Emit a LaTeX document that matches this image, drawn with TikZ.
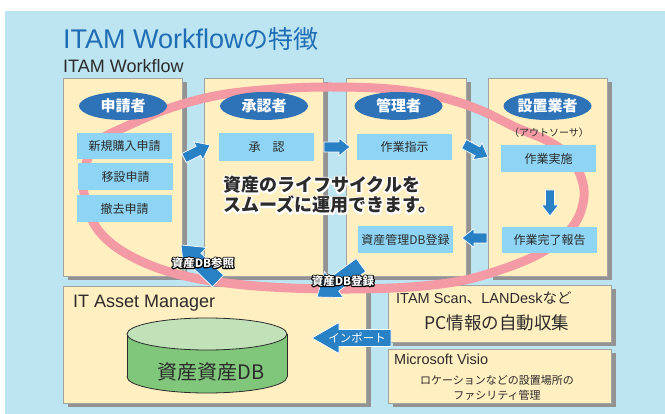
\documentclass[tikz,border=0pt]{standalone}
\usepackage{fontspec}
\setmainfont{Liberation Sans}
\newfontfamily\jp{Noto Sans CJK JP}
\usetikzlibrary{shapes.geometric,calc,shadows}
\definecolor{bgblue}{HTML}{BDE4F1}
\definecolor{panelyellow}{HTML}{FFEFC1}
\definecolor{panelgray}{HTML}{A3A3A3}
\definecolor{shadowgray}{HTML}{939393}
\definecolor{roleblue}{HTML}{2E73B8}
\definecolor{taskblue}{HTML}{8ED5F5}
\definecolor{arrowblue}{HTML}{2880C5}
\definecolor{ringpink}{HTML}{F49AA5}
\definecolor{titleblue}{HTML}{1F6DB4}
\definecolor{textdark}{HTML}{2B2B2B}
\definecolor{cylbody}{HTML}{80C77B}
\definecolor{cyltop}{HTML}{C1E2B9}
\tikzset{
  panel/.style={anchor=north west, fill=panelyellow, draw=panelgray, line width=1pt, inner sep=0pt,
    general shadow={fill=shadowgray, shadow xshift=4pt, shadow yshift=-4pt}},
  role/.style={ellipse, fill=roleblue, text=white, minimum width=88pt, minimum height=28pt, inner sep=0pt,
    font=\jp\bfseries\fontsize{15}{15}\selectfont},
  task/.style={rectangle, fill=taskblue, minimum width=95pt, minimum height=27pt, inner sep=0pt,
    text=textdark, font=\jp\fontsize{12}{12}\selectfont},
  blockarrow/.style={fill=arrowblue, draw=white, line width=0.7pt, line join=miter},
  ringline/.style={draw=ringpink, line width=9pt},
  bigmsg/.style={anchor=west, inner sep=0pt, text=textdark, font=\jp\bfseries\fontsize{18}{18}\selectfont},
  dblabel/.style={inner sep=0pt, text=white, font=\jp\bfseries\fontsize{11.5}{11.5}\selectfont},
  plain/.style={inner sep=0pt, text=textdark},
}
\newcommand{\barrow}[5]{%
  \coordinate (bh) at ($(#2)!#5!(#1)$);
  \filldraw[blockarrow] ($(#1)!#3/2!90:(#2)$) -- ($(bh)!#3/2!-90:(#1)$) -- ($(bh)!#4/2!-90:(#1)$) -- (#2)
    -- ($(bh)!#4/2!90:(#1)$) -- ($(bh)!#3/2!90:(#1)$) -- ($(#1)!#3/2!-90:(#2)$) -- cycle;}
% text with a stroked outline copy underneath (halo)
\newcommand{\haloed}[3]{%
  \rlap{\color{#2}\special{pdf:literal 1 Tr #1 w 1 j}#3\special{pdf:literal 0 Tr}}#3}
\begin{document}
\begin{tikzpicture}[x=1pt,y=-1pt]
\useasboundingbox (0,0) rectangle (665,414);
\fill[white] (0,0) rectangle (665,414);
\fill[bgblue] (5,11) rectangle (665,414);
% titles
\node[anchor=base west, inner sep=0pt, text=titleblue, font=\fontsize{27}{27}\selectfont] (title) at (63,49)
  {ITAM Workflow{\jp\fontsize{25}{25}\selectfont の特徴}};
\node[anchor=base west, plain, font=\fontsize{18}{18}\selectfont] (subtitle) at (63,73) {ITAM Workflow};
% panels
\node[panel, minimum width=119pt, minimum height=198pt] (p1) at (63,78) {};
\node[panel, minimum width=119pt, minimum height=198pt] (p2) at (204,78) {};
\node[panel, minimum width=120pt, minimum height=198pt] (p3) at (346,78) {};
\node[panel, minimum width=119pt, minimum height=198pt] (p4) at (488,78) {};
\node[panel, minimum width=303pt, minimum height=117pt] (pam) at (63,286) {};
\node[panel, minimum width=223pt, minimum height=57pt] (pscan) at (388,285) {};
\node[panel, minimum width=223pt, minimum height=54pt] (pvisio) at (388,349) {};
% life-cycle ring
\draw[ringline] plot[smooth cycle, tension=0.6] coordinates {
 (83,185) (88,158) (100,140) (125,127) (170,108) (220,95) (275,89) (330,87) (390,89) (440,97)
 (480,110) (515,127) (548,141) (570,157) (581,177) (584,197) (577,220) (560,240) (535,256)
 (500,270) (460,281) (410,287) (350,289) (290,288) (235,284) (185,276) (145,263) (112,244) (92,220)};
% roles
\node[role] (r1) at (123,106) {申請者};
\node[role] (r2) at (264,106) {承認者};
\node[role] (r3) at (398.5,106) {管理者};
\node[role] (r4) at (547.5,106) {設置業者};
\node[plain, font=\jp\fontsize{10}{10}\selectfont] (outsrc) at (549,133) {（アウトソーサ）};
% tasks
\node[task, minimum height=26pt] (t1) at (124.5,146) {新規購入申請};
\node[task] (t2) at (125.5,176.5) {移設申請};
\node[task] (t3) at (124.5,208.5) {撤去申請};
\node[task, minimum height=28pt] (t4) at (266.5,147) {承　認};
\node[task, minimum height=26pt] (t5) at (404.5,147) {作業指示};
\node[task] (t6) at (548.5,158.5) {作業実施};
\node[task, minimum height=26pt] (t7) at (549.5,240) {作業完了報告};
\node[task] (t8) at (405.5,239.5) {資産管理DB登録};
% message
\node[bigmsg] (m1) at (223,185) {\haloed{3.2}{white}{資産のライフサイクルを}};
\node[bigmsg] (m2) at (223,205) {\haloed{3.2}{white}{スムーズに運用できます。}};
% block arrows
\coordinate (a1s) at (184,158); \coordinate (a1e) at (210,145);
\barrow{a1s}{a1e}{10pt}{20pt}{13pt}
\coordinate (a2s) at (324,147); \coordinate (a2e) at (350,147);
\barrow{a2s}{a2e}{10pt}{18pt}{11pt}
\coordinate (a3s) at (464,144); \coordinate (a3e) at (488,157);
\barrow{a3s}{a3e}{10pt}{19pt}{12pt}
\coordinate (a4s) at (550,190); \coordinate (a4e) at (550,216);
\barrow{a4s}{a4e}{9pt}{17pt}{11pt}
\coordinate (a5s) at (487,238); \coordinate (a5e) at (462,238);
\barrow{a5s}{a5e}{10pt}{19pt}{12pt}
\coordinate (a6s) at (218,281); \coordinate (a6e) at (181,245);
\barrow{a6s}{a6e}{16pt}{32pt}{20pt}
\coordinate (a7s) at (361,265); \coordinate (a7e) at (317,297);
\barrow{a7s}{a7e}{16pt}{32pt}{21pt}
\coordinate (a8s) at (391,338); \coordinate (a8e) at (312,338);
\barrow{a8s}{a8e}{17pt}{31pt}{27pt}
\node[inner sep=0pt, text=white, font=\jp\fontsize{11.5}{11.5}\selectfont] (imp) at (357,338) {インポート};
\node[dblabel] (lref) at (203,263) {\haloed{2}{black}{資産DB参照}};
\node[dblabel] (lreg) at (343,281) {\haloed{2}{black}{資産DB登録}};
% IT Asset Manager
\node[anchor=base west, plain, font=\fontsize{18}{18}\selectfont] (amtitle) at (73,308) {IT Asset Manager};
\filldraw[fill=cylbody, draw=textdark, line width=0.8pt] (207,377) ellipse [x radius=80, y radius=16];
\fill[cylbody] (127,334) rectangle (287,377);
\draw[textdark, line width=0.8pt] (127,334) -- (127,377) (287,334) -- (287,377);
\filldraw[fill=cyltop, draw=textdark, line width=0.8pt] (207,334) ellipse [x radius=80, y radius=16];
\node[plain, font=\jp\fontsize{20}{20}\selectfont] (db) at (211,372) {資産資産DB};
% right boxes
\node[anchor=base west, plain, font=\fontsize{14.5}{14.5}\selectfont] (scan) at (396,304) {ITAM Scan{\jp 、}LANDesk{\jp など}};
\node[anchor=base, plain, font=\jp\fontsize{17.5}{17.5}\selectfont] (pc) at (497,330) {PC情報の自動収集};
\node[anchor=base west, plain, font=\fontsize{14.5}{14.5}\selectfont] (visio) at (394,365) {Microsoft Visio};
\node[plain, font=\jp\fontsize{11}{11}\selectfont] (loc1) at (497,380) {ロケーションなどの設置場所の};
\node[plain, font=\jp\fontsize{11}{11}\selectfont] (loc2) at (497,395) {ファシリティ管理};
\end{tikzpicture}
\end{document}
